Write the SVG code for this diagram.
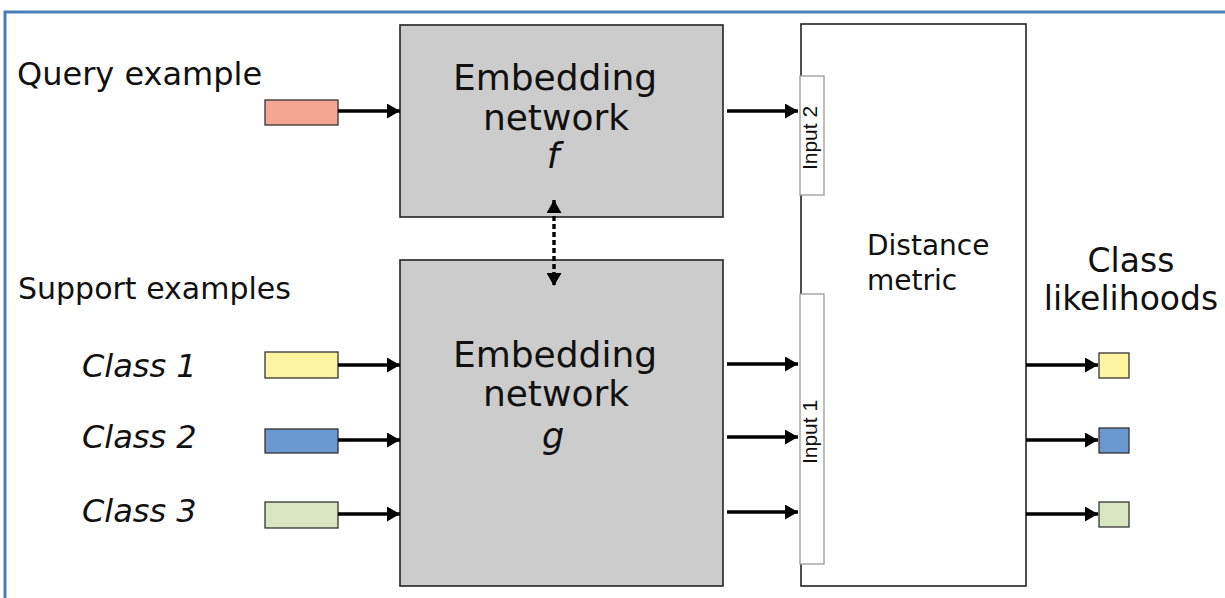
<svg xmlns="http://www.w3.org/2000/svg" width="1225" height="598" viewBox="0 0 1225 598">
<style>
.lbl{font-family:"DejaVu Sans","Liberation Sans",sans-serif;fill:#111}
.it{font-style:italic}
.box{fill:#cccccc;stroke:#222;stroke-width:1.6}
.wbox{fill:#fff;stroke:#222;stroke-width:1.6}
.inp{fill:#fff;stroke:#9a9a9a;stroke-width:1.3}
.inlbl{font-family:"Liberation Sans",Arial,sans-serif;font-size:21px;fill:#111}
.sw{stroke:#333;stroke-width:1.3}
.arr{stroke:#000;stroke-width:3.6;fill:none;marker-end:url(#ah)}
.dash{stroke:#000;stroke-width:3.4;fill:none;stroke-dasharray:5 3;marker-start:url(#ah);marker-end:url(#ah)}
</style>
<defs>
<marker id="ah" markerUnits="userSpaceOnUse" markerWidth="14" markerHeight="15" refX="13" refY="7.5" orient="auto-start-reverse">
<path d="M0,0 L13,7.5 L0,15 z" fill="#000"/>
</marker>
</defs>
<rect width="1225" height="598" fill="#fff"/>
<rect id="frame" x="5" y="12" width="1240" height="620" fill="none" stroke="#4a7ebb" stroke-width="3"/>

<g id="labels">
<text class="lbl" x="17" y="85" font-size="32">Query example</text>
<text class="lbl" x="18" y="299" font-size="30">Support examples</text>
<text class="lbl it" x="82" y="377" font-size="32">Class 1</text>
<text class="lbl it" x="82" y="448" font-size="32">Class 2</text>
<text class="lbl it" x="82" y="522" font-size="32">Class 3</text>
</g>

<g id="query">
<rect x="265" y="100" width="73" height="25" fill="#f5a593" class="sw"/>
</g>
<g id="class1-in"><rect x="265" y="352" width="73" height="26" fill="#fdf3a1" class="sw"/></g>
<g id="class2-in"><rect x="265" y="429" width="73" height="24" fill="#6b98d0" class="sw"/></g>
<g id="class3-in"><rect x="265" y="502" width="73" height="26" fill="#d8e5be" class="sw"/></g>

<g id="embed-f">
<rect class="box" x="400" y="25" width="323" height="192"/>
<text class="lbl" font-size="36" text-anchor="middle"><tspan x="555" y="90">Embedding</tspan><tspan x="556" y="130">network</tspan><tspan class="it" x="553" y="168">f</tspan></text>
</g>

<g id="embed-g">
<rect class="box" x="400" y="260" width="323" height="326"/>
<text class="lbl" font-size="36" text-anchor="middle"><tspan x="555" y="367">Embedding</tspan><tspan x="556" y="406">network</tspan></text>
<text class="lbl it" font-size="35" text-anchor="middle" x="553" y="448">g</text>
</g>

<g id="distance">
<rect class="wbox" x="801" y="24" width="225" height="562"/>
<text class="lbl" font-size="28"><tspan x="867" y="255">Distance</tspan><tspan x="867" y="290">metric</tspan></text>
</g>

<g id="input2">
<rect class="inp" x="800" y="76" width="24" height="119"/>
<text class="inlbl" transform="translate(817,138) rotate(-90)" text-anchor="middle">Input 2</text>
</g>
<g id="input1">
<rect class="inp" x="800" y="294" width="24" height="270"/>
<text class="inlbl" transform="translate(817,432) rotate(-90)" text-anchor="middle">Input 1</text>
</g>

<g id="likelihoods">
<text class="lbl" font-size="33" text-anchor="middle"><tspan x="1131" y="272">Class</tspan><tspan x="1131" y="310">likelihoods</tspan></text>
</g>
<g id="out1"><rect x="1099" y="353" width="30" height="25" fill="#fdf3a1" class="sw"/></g>
<g id="out2"><rect x="1099" y="428" width="30" height="25" fill="#6b98d0" class="sw"/></g>
<g id="out3"><rect x="1099" y="502" width="30" height="25" fill="#d8e5be" class="sw"/></g>

<g id="connectors">
<line class="arr" x1="338" y1="111" x2="400" y2="111"/>
<line class="arr" x1="338" y1="365" x2="400" y2="365"/>
<line class="arr" x1="338" y1="440" x2="400" y2="440"/>
<line class="arr" x1="338" y1="514" x2="400" y2="514"/>
<line class="arr" x1="727" y1="111" x2="798" y2="111"/>
<line class="arr" x1="727" y1="364" x2="798" y2="364"/>
<line class="arr" x1="727" y1="437" x2="798" y2="437"/>
<line class="arr" x1="727" y1="512" x2="798" y2="512"/>
<line class="arr" x1="1026" y1="365" x2="1098" y2="365"/>
<line class="arr" x1="1026" y1="440" x2="1098" y2="440"/>
<line class="arr" x1="1026" y1="514" x2="1098" y2="514"/>
<line class="dash" x1="554" y1="200" x2="554" y2="286"/>
</g>
</svg>
